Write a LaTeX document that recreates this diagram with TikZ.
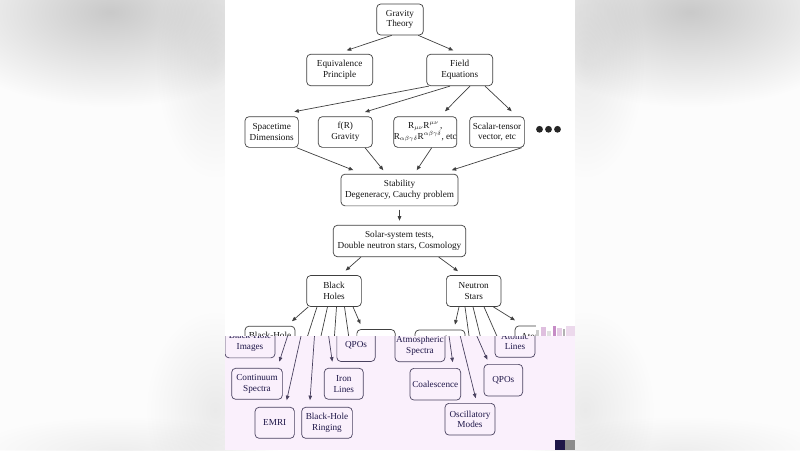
\documentclass[tikz,border=0pt]{standalone}
\usepackage{fontspec}
\setmainfont{Liberation Serif}
\usetikzlibrary{arrows.meta,fadings}
\definecolor{lav}{HTML}{FAF0FC}
\definecolor{sidebg}{HTML}{FCFCFC}
\definecolor{navytxt}{HTML}{1E1648}
\definecolor{navyline}{HTML}{4A4260}
\colorlet{bordc}{black!75}
\colorlet{txtc}{black!92}
\colorlet{boxfill}{white}
\tikzfading[name=softblob, inner color=transparent!0, outer color=transparent!100]
\tikzset{
  box/.style={draw=bordc, fill=boxfill, text=txtc, rounded corners=4pt,
    line width=0.7pt, align=center, inner sep=0pt, minimum height=31pt,
    font=\fontsize{9.2}{10.6}\selectfont},
  arr/.style={draw=bordc, line width=0.7pt, -{Triangle[length=4.5pt,width=3.6pt]}},
  blob/.style={fill=black, fill opacity=#1, path fading=softblob},
}
\newcommand\GlitchLayer{%
  \node[box, minimum width=54.7pt] (bh) at (334,291) {Black\\Holes};
  \node[box, minimum width=54.7pt] (ns) at (473.7,291) {Neutron\\Stars};
  \node[box, minimum width=50pt, minimum height=31.7pt] (bhi) at (270,342) {Black-Hole\\Images};
  \node[box, minimum width=50.7pt] (cont) at (277,383.8) {Continuum\\Spectra};
  \node[box, minimum width=39.3pt] (emri) at (294.7,422.8) {EMRI};
  \node[box, minimum width=50.7pt] (ring) at (347,422.8) {Black-Hole\\Ringing};
  \node[box, minimum width=39pt] (iron) at (363.8,383.8) {Iron\\Lines};
  \node[box, minimum width=38.3pt, minimum height=32pt] (qpoa) at (376,345.5) {QPOs};
  \node[box, minimum width=50pt, minimum height=31.7pt] (atm) at (440,345.8) {Atmospheric\\Spectra};
  \node[box, minimum width=50.7pt, minimum height=31.7pt] (coal) at (455.3,384.2) {Coalescence};
  \node[box, minimum width=50pt, minimum height=31.7pt] (osc) at (490,419.2) {Oscillatory\\Modes};
  \node[box, minimum width=38.7pt, minimum height=31.7pt] (qpob) at (523.3,380.2) {QPOs};
  \node[box, minimum width=40pt, minimum height=31.4pt] (atom) at (535,341.6) {Atomic\\Lines};
  \draw[arr] ([xshift=-25.7pt]bh.south) -- ([xshift=22pt,yshift=4.6pt]bhi.north);
  \draw[arr] ([xshift=-17pt]bh.south) -- ([xshift=22.3pt,yshift=6.3pt]cont.north);
  \draw[arr] ([xshift=-6.5pt]bh.south) -- ([xshift=12pt,yshift=6.8pt]emri.north);
  \draw[arr] ([xshift=2.5pt]bh.south) -- ([xshift=-17pt,yshift=6.8pt]ring.north);
  \draw[arr] ([xshift=10.5pt]bh.south) -- ([xshift=-11.5pt,yshift=6.3pt]iron.north);
  \draw[arr] ([xshift=19pt]bh.south) -- ([xshift=-15.5pt,yshift=5pt]qpoa.north);
  \draw[arr] ([xshift=-14.7pt]ns.south) -- ([xshift=15pt,yshift=5pt]atm.north);
  \draw[arr] ([xshift=-8.7pt]ns.south) -- ([xshift=17.4pt,yshift=5.8pt]coal.north);
  \draw[arr] ([xshift=-0.7pt]ns.south) -- ([xshift=5.7pt,yshift=4.8pt]osc.north);
  \draw[arr] ([xshift=10.3pt]ns.south) -- ([xshift=-16pt,yshift=4.3pt]qpob.north);
  \draw[arr] ([xshift=19.6pt]ns.south) -- ([xshift=-20pt,yshift=5.2pt]atom.north);
}
\begin{document}
\begin{tikzpicture}[x=1pt,y=-1pt]
\useasboundingbox (0,0) rectangle (800,450);
% blurred side background
\fill[sidebg] (0,0) rectangle (800,450);
\path[blob=0.2] (110,12) ellipse [x radius=180pt, y radius=95pt];
\path[blob=0.07] (215,60) ellipse [x radius=60pt, y radius=120pt];
\path[blob=0.07] (215,410) ellipse [x radius=70pt, y radius=100pt];
\path[blob=0.06] (120,452) ellipse [x radius=150pt, y radius=36pt];
\path[blob=0.2] (690,12) ellipse [x radius=180pt, y radius=95pt];
\path[blob=0.07] (585,60) ellipse [x radius=60pt, y radius=120pt];
\path[blob=0.07] (585,410) ellipse [x radius=70pt, y radius=100pt];
\path[blob=0.06] (680,452) ellipse [x radius=150pt, y radius=36pt];
% panel
\fill[white] (225,0) rectangle (575,336);
% upper diagram
\node[box, minimum width=46.6pt] (gt) at (400,19.5) {Gravity\\Theory};
\node[box, minimum width=66pt, minimum height=31.5pt] (ep) at (339.7,70) {Equivalence\\Principle};
\node[box, minimum width=66pt, minimum height=31.5pt] (fe) at (459.7,70) {Field\\Equations};
\node[box, minimum width=53.3pt, minimum height=30.7pt] (sd) at (271.7,132) {Spacetime\\Dimensions};
\node[box, minimum width=54pt, minimum height=30.7pt] (fr) at (345.3,132) {f(R)\\Gravity};
\node[box, minimum width=59.3pt, minimum height=30.7pt] (rr) at (425.3,132)
  {R$_{\mu\nu}$R$^{\mu\nu}$\,,\\R$_{\alpha\beta\gamma\delta}$R$^{\alpha\beta\gamma\delta}$, etc};
\node[box, minimum width=54.7pt, minimum height=30.7pt] (st) at (497,132) {Scalar-tensor\\vector, etc};
\fill[black!85] (539.5,129.3) circle [radius=3.4pt] (548.5,129.3) circle [radius=3.4pt] (557.5,129.3) circle [radius=3.4pt];
\node[box, minimum width=117pt, minimum height=31.7pt] (stab) at (399.5,190) {Stability\\Degeneracy, Cauchy problem};
\node[box, minimum width=132.4pt, minimum height=31.4pt] (sol) at (399.5,241) {Solar-system tests,\\Double neutron stars, Cosmology};
\draw[arr] ([xshift=-8.3pt]gt.south) -- ([xshift=7pt,yshift=3.5pt]ep.north);
\draw[arr] ([xshift=18.3pt]gt.south) -- ([xshift=-6.4pt,yshift=3.5pt]fe.north);
\draw[arr] ([xshift=-30.7pt]fe.south) -- ([xshift=22.6pt,yshift=4.6pt]sd.north);
\draw[arr] ([xshift=-9.7pt]fe.south) -- ([xshift=19.7pt,yshift=4.3pt]fr.north);
\draw[arr] ([xshift=10.3pt]fe.south) -- ([xshift=19.7pt,yshift=5pt]rr.north);
\draw[arr] ([xshift=25.3pt]fe.south) -- ([xshift=14.7pt,yshift=5pt]st.north);
\draw[arr] ([xshift=25pt]sd.south) -- ([xshift=-46.2pt,yshift=3.6pt]stab.north);
\draw[arr] ([xshift=19.7pt]fr.south) -- ([xshift=-16.2pt,yshift=3.6pt]stab.north);
\draw[arr] ([xshift=6.4pt]rr.south) -- ([xshift=17.2pt,yshift=3.6pt]stab.north);
\draw[arr] ([xshift=24.7pt]st.south) -- ([xshift=52.2pt,yshift=3.6pt]stab.north);
\draw[arr] ([yshift=-3.5pt]stab.south) -- ([yshift=4.3pt]sol.north);
% lower diagram, unshifted band
\begin{scope}
  \clip (225,258) rectangle (575,336);
  \GlitchLayer
\end{scope}
\draw[arr] ([xshift=-38.5pt]sol.south) -- ([xshift=11.7pt,yshift=4.6pt]bh.north);
\draw[arr] ([xshift=39.2pt]sol.south) -- ([xshift=-15.7pt,yshift=4pt]ns.north);
% glitch artifacts in the band
\fill[white] (535.5,324) rectangle (575,336);
\fill[black!20] (536,330) rectangle (539,336);
\fill[violet!25] (541,327) rectangle (546,336);
\fill[black!12] (547,331) rectangle (551,336);
\fill[violet!45] (553,326) rectangle (556,336);
\fill[violet!20] (557,328) rectangle (562,336);
\fill[black!30] (563,329) rectangle (565,336);
\fill[violet!15] (566,326) rectangle (575,336);
% lower diagram, shifted lavender layer
\begin{scope}
  \clip (225,336) rectangle (575,450);
  \fill[lav] (225,336) rectangle (575,450);
  \begin{scope}[xshift=-20pt]
    \colorlet{bordc}{navyline}\colorlet{txtc}{navytxt}\colorlet{boxfill}{lav}
    \GlitchLayer
  \end{scope}
  \fill[navytxt] (555,440) rectangle (565,450);
  \fill[black!45] (565,440) rectangle (575,450);
\end{scope}
\end{tikzpicture}
\end{document}
